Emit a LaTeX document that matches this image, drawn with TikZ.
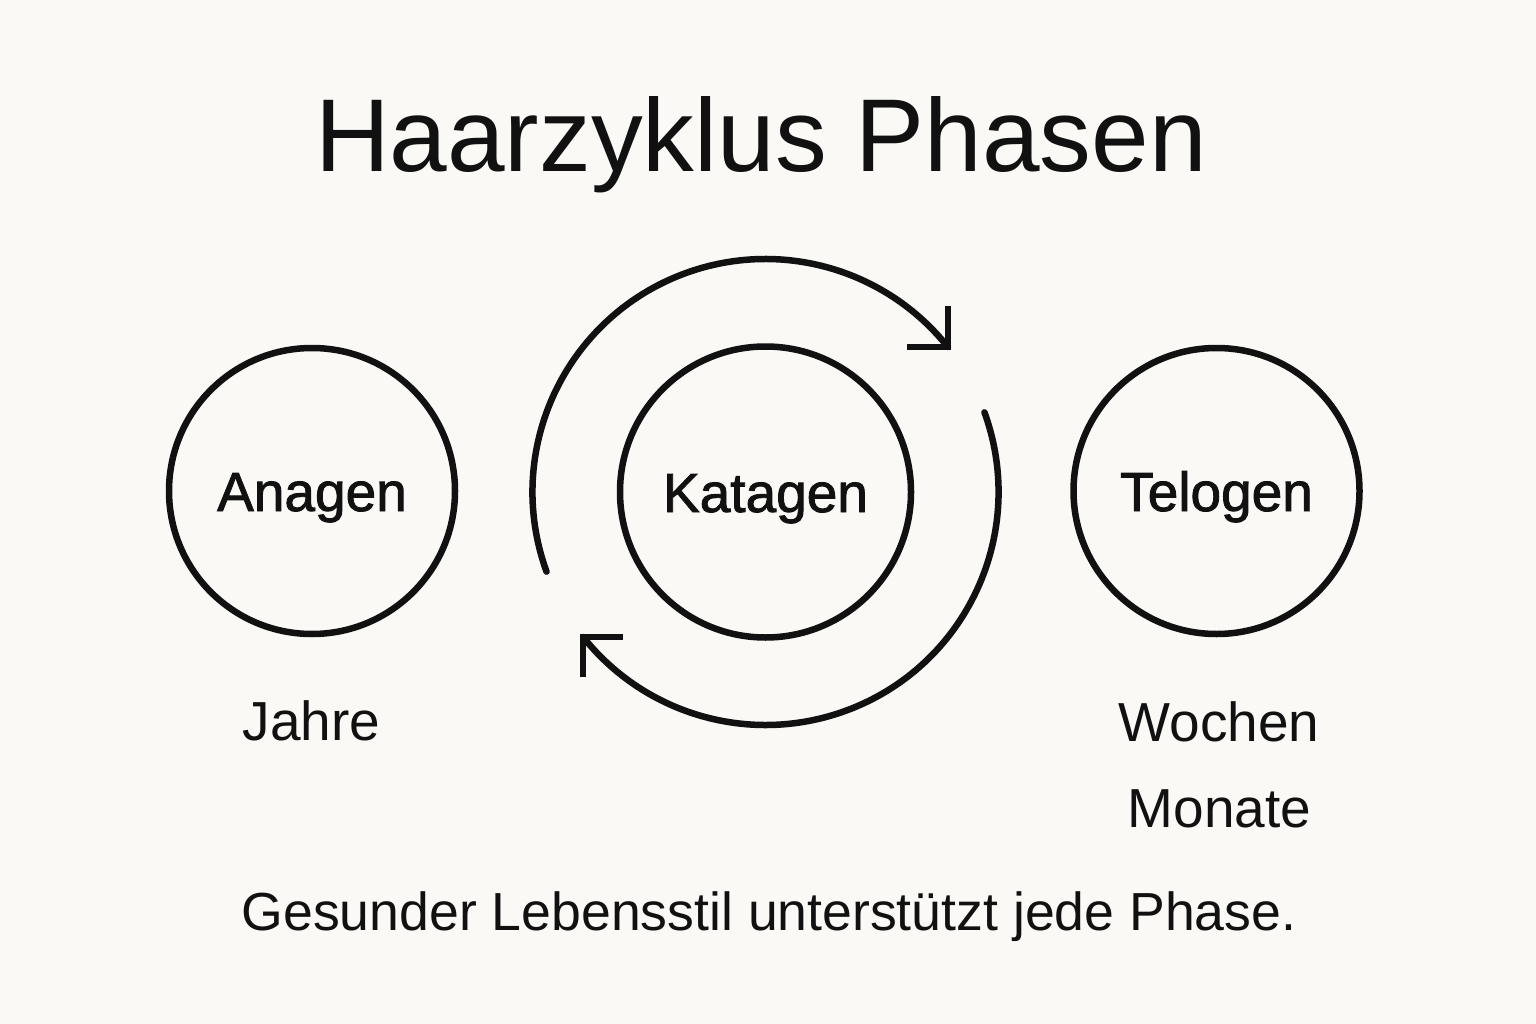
\documentclass[tikz,border=0pt]{standalone}
\usepackage{fontspec}
\setmainfont{Liberation Sans}
\newfontfamily\labfont[FakeBold=1.6]{Liberation Sans}
\usetikzlibrary{calc}
\definecolor{bg}{HTML}{FAF9F6}
\definecolor{ink}{HTML}{111111}
\begin{document}
\begin{tikzpicture}[x=1pt,y=1pt,
  phase/.style={circle, draw=ink, line width=6.5pt, minimum size=286pt, inner sep=0pt,
    text=ink, text height=40pt, text depth=0pt,
    font=\labfont\fontsize{55}{60}\selectfont},
  txt/.style={anchor=base, text=ink, inner sep=0pt, font=\fontsize{55}{60}\selectfont},
  cyc/.style={draw=ink, line width=6.5pt, line cap=round},
  head/.style={draw=ink, line width=6.5pt, line cap=butt, line join=miter}]
\fill[bg] (0,-1024) rectangle (1536,0);
\useasboundingbox (0,-1024) rectangle (1536,0);

\node[txt, font=\fontsize{103.5}{110}\selectfont] (title) at (761,-172) {Haarzyklus Phasen};

\node[phase] (ana) at (312,-491) {Anagen};
\node[phase, minimum size=291pt] (kata) at (765.5,-492) {Katagen};
\node[phase] (telo) at (1216.5,-491) {Telogen};

\node[txt] (jahre) at (311.5,-740) {Jahre};
\node[txt] (wochen) at (1219,-741) {Wochen};
\node[txt] (monate) at (1219.5,-827) {Monate};
\node[txt, font=\fontsize{53.6}{60}\selectfont] (foot) at (769,-930) {Gesunder Lebensstil unterstützt jede Phase.};

% cycle arcs around Katagen
\coordinate (c1s) at ($(kata.center)+(200:233)$);
\coordinate (c1e) at ($(kata.center)+(38.5:233)$);
\coordinate (c2s) at ($(kata.center)+(20:233)$);
\coordinate (c2e) at ($(kata.center)+(-141.5:233)$);
\draw[cyc] (c1s) arc[start angle=200, end angle=38.5, radius=233];
\draw[cyc] (c2s) arc[start angle=20, end angle=-141.5, radius=233];
% open arrowheads
\draw[head] ($(c1e)+(0,41)$) -- (c1e) -- ($(c1e)+(-41,0)$);
\draw[head] ($(c2e)+(0,-40)$) -- (c2e) -- ($(c2e)+(40,0)$);
\end{tikzpicture}
\end{document}
